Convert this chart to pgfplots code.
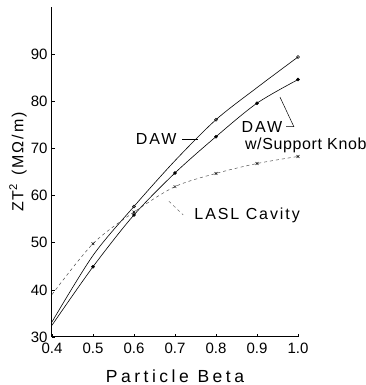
\documentclass[border=0pt]{standalone}
\usepackage{fontspec}
\setmainfont{Liberation Sans}
\newfontfamily\spfont[LetterSpace=12]{Liberation Sans}
\newfontfamily\wfont[LetterSpace=4]{Liberation Sans}
\newfontfamily\xfont[LetterSpace=20]{Liberation Sans}
\usepackage{pgfplots}
\pgfplotsset{compat=1.18}
\begin{document}
\begin{tikzpicture}
\path[use as bounding box] (-52pt,-48pt) rectangle (314pt,337pt);
\begin{axis}[
  scale only axis, width=246pt, height=330pt,
  xmin=0.4, xmax=1.0, ymin=30, ymax=100,
  axis x line*=bottom, axis y line*=left,
  axis line style={-, line width=1pt},
  xtick={0.4,0.5,0.6,0.7,0.8,0.9,1.0},
  xticklabels={0.4,0.5,0.6,0.7,0.8,0.9,1.0},
  ytick={30,40,50,60,70,80,90},
  major tick length=3pt,
  tick style={black, line width=0.5pt},
  /pgf/number format/assume math mode=true,
  tick label style={font=\fontsize{15}{15}\selectfont},
  xticklabel style={yshift=-2pt},
  yticklabel style={xshift=-1pt},
  xlabel={\xfont Particle\hspace{0.5em}Beta},
  xlabel style={font=\fontsize{17.5}{17.5}\selectfont, at={(axis description cs:0.5,-0.118)}, anchor=center},
  ylabel={\spfont ZT\textsuperscript{2}\hspace{0.5em}(MΩ/m)},
  ylabel style={font=\fontsize{16}{16}\selectfont, at={(axis description cs:-0.138,0.53)}, anchor=center, rotate=0},
  clip=false,
]
% DAW
\addplot[black, line width=0.6pt, smooth, no marks] coordinates {(0.4,33.2)(0.5,47.3)(0.6,57.7)(0.7,67.4)(0.8,76.1)(0.9,82.9)(1.0,89.4)};
\addplot[black, only marks, mark=o, mark size=1.5pt, mark options={line width=0.5pt}] coordinates {(0.6,57.7)(0.8,76.1)(1.0,89.4)};
% DAW w/ support knob
\addplot[black, line width=0.6pt, smooth, no marks] coordinates {(0.4,32.5)(0.5,44.9)(0.6,55.9)(0.7,64.8)(0.8,72.5)(0.9,79.6)(1.0,84.6)};
\addplot[black, only marks, mark=*, mark size=1.6pt] coordinates {(0.5,44.9)(0.6,55.9)(0.7,64.8)(0.8,72.5)(0.9,79.6)(1.0,84.6)};
% LASL cavity
\addplot[black!70, line width=0.5pt, dashed, smooth, no marks] coordinates {(0.4,39.0)(0.5,49.8)(0.6,56.5)(0.7,61.9)(0.8,64.7)(0.9,66.8)(1.0,68.3)};
\addplot[black, only marks, mark=x, mark size=2pt, mark options={line width=0.5pt}] coordinates {(0.5,49.8)(0.6,56.5)(0.7,61.9)(0.8,64.7)(0.9,66.8)(1.0,68.3)};
% annotations
\node[font=\fontsize{16}{16}\selectfont\spfont] at (axis cs:0.654,72.0) {DAW};
\draw[black, line width=0.5pt] (axis cs:0.718,72.0) -- (axis cs:0.755,72.0);
\node[font=\fontsize{16}{16}\selectfont\spfont] at (axis cs:0.912,74.5) {DAW};
\node[font=\fontsize{16}{16}\selectfont\wfont] at (axis cs:1.019,70.7) {w/Support Knob};
\draw[black, line width=0.5pt] (axis cs:0.971,74.6) -- (axis cs:0.990,74.6) -- (axis cs:0.956,80.9);
\node[font=\fontsize{16}{16}\selectfont\spfont] at (axis cs:0.876,55.9) {LASL\hspace{0.4em}Cavity};
\draw[black!60, line width=0.5pt, dashed] (axis cs:0.685,58.8) -- (axis cs:0.720,55.9);
\end{axis}
\end{tikzpicture}
\end{document}
